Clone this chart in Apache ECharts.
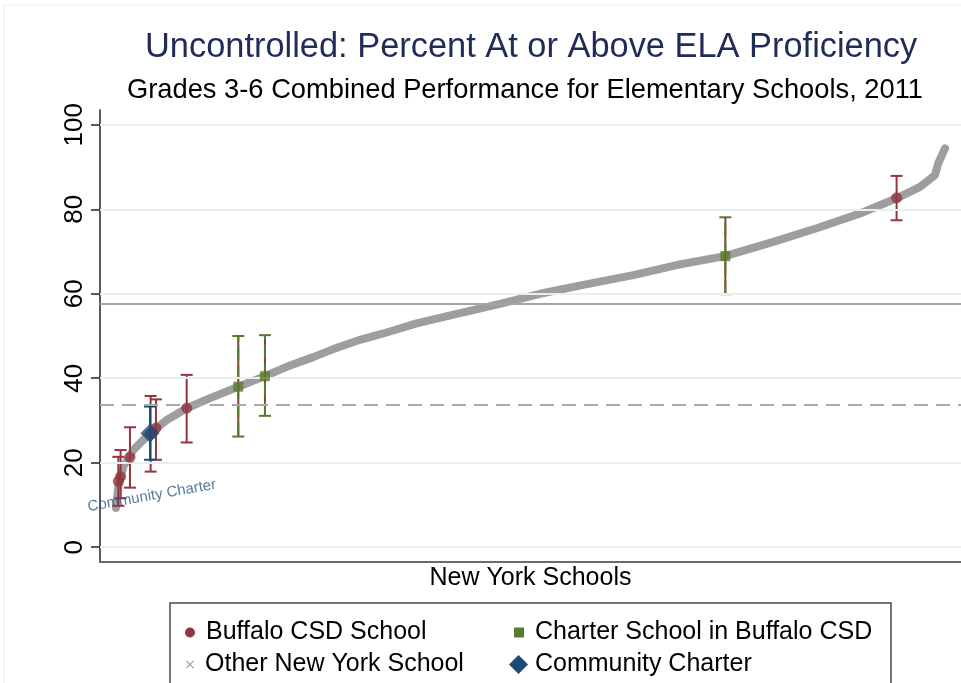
<!DOCTYPE html>
<html>
<head>
<meta charset="utf-8">
<title>Uncontrolled: Percent At or Above ELA Proficiency</title>
<script src="https://cdn.jsdelivr.net/npm/echarts@6/dist/echarts.min.js"></script>
<style>
    html, body { margin: 0; padding: 0; background: #fff; }
    #chart { width: 961px; height: 683px; }
</style>
</head>
<body>
<div id="chart"></div>
<script>
// x = rank of the school among New York schools (0-100 across the plot), y = percent proficient
const otherX = [1.86, 2.13, 2.71, 3.87, 5.81, 7.75, 10.07, 12.78, 16.06, 19.16, 21.68, 24.77, 27.10,
    30.20, 32.90, 36.78, 41.81, 46.46, 51.10, 56.13, 61.94, 66.97, 72.59, 78.20, 83.23, 88.27,
    92.53, 95.24, 96.98, 97.36, 98.14];
const otherY = [9.3, 14.3, 19.1, 23.0, 27.0, 30.1, 32.9, 35.3, 38.0, 40.5, 42.7, 45.0, 46.9,
    49.1, 50.6, 53.0, 55.4, 57.6, 60.0, 62.1, 64.4, 66.8, 68.9, 72.3, 75.5, 79.0,
    82.6, 85.3, 88.1, 90.9, 94.4];

const buffaloX = [2.13, 2.39, 3.48, 5.88, 6.50, 10.07, 92.52];
const buffaloY = [15.6, 16.7, 21.3, 26.8, 28.2, 32.9, 82.7];
const buffaloLo = [9.8, 11.6, 14.1, 17.9, 20.7, 24.8, 77.4];
const buffaloHi = [21.4, 23.0, 28.4, 35.8, 35.0, 40.8, 87.9];

const charterX = [16.06, 19.16, 72.63];
const charterY = [38.0, 40.5, 68.9];
const charterLo = [26.2, 31.1, 59.9];
const charterHi = [50.0, 50.2, 78.1];

const communityX = [5.81];
const communityY = [27.0];
const communityLo = [20.7];
const communityHi = [33.3];

const yTicks = [0, 20, 40, 60, 80, 100];
const stateLine = 57.7;    // solid reference line
const buffaloLine = 33.8;  // dashed reference line

const font = 'Liberation Sans';
const red = '#933640';
const green = '#5a7a2b';
const blue = '#1c4a78';
const gray = '#9e9e9e';

const zip = (xs, ys) => xs.map((x, i) => [x, ys[i]]);
const zip3 = (xs, lo, hi) => xs.map((x, i) => [x, lo[i], hi[i]]);

// draws a vertical bar with caps; dashColor gives the red bits on the charter bars
function errorBar(color, dashColor) {
    return (params, api) => {
        let x = api.value(0);
        let lo = api.coord([x, api.value(1)]);
        let hi = api.coord([x, api.value(2)]);
        let cap = 6;
        let kids = [];
        if (dashColor) {
            kids.push({ type: 'line', shape: { x1: lo[0], y1: lo[1], x2: hi[0], y2: hi[1] },
                style: { stroke: dashColor, lineWidth: 2 } });
            kids.push({ type: 'line', shape: { x1: lo[0], y1: lo[1], x2: hi[0], y2: hi[1] },
                style: { stroke: color, lineWidth: 2, lineDash: [14, 5] } });
        } else {
            kids.push({ type: 'line', shape: { x1: lo[0], y1: lo[1], x2: hi[0], y2: hi[1] },
                style: { stroke: color, lineWidth: 2 } });
        }
        kids.push({ type: 'line', shape: { x1: lo[0] - cap, y1: lo[1], x2: lo[0] + cap, y2: lo[1] },
            style: { stroke: color, lineWidth: 2 } });
        kids.push({ type: 'line', shape: { x1: hi[0] - cap, y1: hi[1], x2: hi[0] + cap, y2: hi[1] },
            style: { stroke: color, lineWidth: 2 } });
        return { type: 'group', children: kids };
    };
}

const crossIcon = 'path://M0,1L1,0L5,4L9,0L10,1L6,5L10,9L9,10L5,6L1,10L0,9L4,5Z';

const legendBase = {
    selectedMode: false,
    orient: 'vertical',
    itemWidth: 10,
    itemHeight: 10,
    textStyle: { fontFamily: font, fontSize: 25, color: '#000' }
};
function legendAt(name, icon, color, left, top, w, h, pad) {
    return Object.assign({}, legendBase, {
        data: [{ name: name, icon: icon, itemStyle: { color: color } }],
        left: left, top: top, itemWidth: w, itemHeight: h,
        textStyle: Object.assign({}, legendBase.textStyle, { padding: [0, 0, 0, pad] })
    });
}

const chart = echarts.init(document.getElementById('chart'));
chart.setOption({
    backgroundColor: '#fff',
    animation: false,
    title: [
        { text: 'Uncontrolled: Percent At or Above ELA Proficiency', left: 145, top: 31, padding: 0,
            textStyle: { fontFamily: font, fontSize: 34.4, fontWeight: 'normal', color: '#1f2c55' } },
        { text: 'Grades 3-6 Combined Performance for Elementary Schools, 2011', left: 127, top: 77, padding: 0,
            textStyle: { fontFamily: font, fontSize: 27.3, fontWeight: 'normal', color: '#000' } }
    ],
    legend: [
        legendAt('Buffalo CSD School', 'circle', red, 180, 615, 10, 10, 6),
        legendAt('Other New York School', crossIcon, gray, 181, 647, 8, 8, 6),
        legendAt('Charter School in Buffalo CSD', 'rect', green, 509, 615, 10, 10, 6),
        legendAt('Community Charter', 'diamond', blue, 504, 647, 19, 19, 2)
    ],
    graphic: [
        { type: 'rect', shape: { x: 170, y: 603, width: 721, height: 100 },
            style: { fill: 'none', stroke: '#4a4a4a', lineWidth: 1.5 }, z: -1 },
        { type: 'line', shape: { x1: 4, y1: 5, x2: 961, y2: 5 }, style: { stroke: '#eeeeee', lineWidth: 1 } },
        { type: 'line', shape: { x1: 4, y1: 5, x2: 4, y2: 683 }, style: { stroke: '#eeeeee', lineWidth: 1 } }
    ],
    grid: { left: 100, right: 0, top: 110, bottom: 121 },
    xAxis: {
        type: 'value', min: 0, max: 100,
        name: 'New York Schools', nameLocation: 'middle', nameGap: 4,
        nameTextStyle: { fontFamily: font, fontSize: 25, color: '#000' },
        axisLine: { onZero: false, lineStyle: { color: '#6a6a6a', width: 2 } },
        axisTick: { show: false }, axisLabel: { show: false }, splitLine: { show: false }
    },
    yAxis: {
        type: 'value', min: -3.5, max: 103.5,
        axisLine: { show: true, onZero: false, lineStyle: { color: '#222', width: 1.5 } },
        axisTick: { show: true, length: 9, customValues: yTicks, lineStyle: { color: '#222', width: 1.5 } },
        axisLabel: { customValues: yTicks, rotate: 90, margin: 12,
            fontFamily: font, fontSize: 26, color: '#000' },
        splitLine: { show: false }
    },
    series: [
        {
            // grid lines and the two reference lines
            type: 'scatter', data: [], z: 1, silent: true,
            markLine: {
                silent: true, symbol: 'none', label: { show: false },
                data: yTicks.map(v => ({ yAxis: v, lineStyle: { color: '#e6eff1', width: 2, type: 'solid' } }))
                    .concat([
                        { yAxis: stateLine, lineStyle: { color: '#a4a4a4', width: 2, type: 'solid' } },
                        { yAxis: buffaloLine, lineStyle: { color: '#a8a8a8', width: 2, type: [14, 8] } }
                    ])
            }
        },
        {
            name: 'Other New York School', type: 'line', z: 3,
            data: zip(otherX, otherY), symbol: 'none',
            itemStyle: { color: gray },
            lineStyle: { color: gray, width: 8, cap: 'round', join: 'round' }
        },
        {
            name: 'Buffalo CSD School', type: 'custom', z: 4,
            renderItem: errorBar(red), data: zip3(buffaloX, buffaloLo, buffaloHi),
            encode: { x: 0, y: [1, 2] }
        },
        {
            name: 'Charter School in Buffalo CSD', type: 'custom', z: 4,
            renderItem: errorBar(green, red), data: zip3(charterX, charterLo, charterHi),
            encode: { x: 0, y: [1, 2] }
        },
        {
            name: 'Community Charter', type: 'custom', z: 4,
            renderItem: errorBar(blue), data: zip3(communityX, communityLo, communityHi),
            encode: { x: 0, y: [1, 2] }
        },
        {
            name: 'Buffalo CSD School', type: 'scatter', z: 5,
            data: zip(buffaloX, buffaloY), symbol: 'circle', symbolSize: 11,
            itemStyle: { color: red }
        },
        {
            name: 'Charter School in Buffalo CSD', type: 'scatter', z: 5,
            data: zip(charterX, charterY), symbol: 'rect', symbolSize: 10,
            itemStyle: { color: green }
        },
        {
            name: 'Community Charter', type: 'scatter', z: 6,
            data: zip(communityX, communityY), symbol: 'diamond', symbolSize: [19, 19],
            itemStyle: { color: blue },
            label: {
                show: true, formatter: 'Community Charter', position: 'inside',
                offset: [-9, 62], rotate: 10, align: 'center', verticalAlign: 'middle',
                fontFamily: font, fontSize: 15, color: '#2b5a8a'
            }
        }
    ]
});
</script>
</body>
</html>
